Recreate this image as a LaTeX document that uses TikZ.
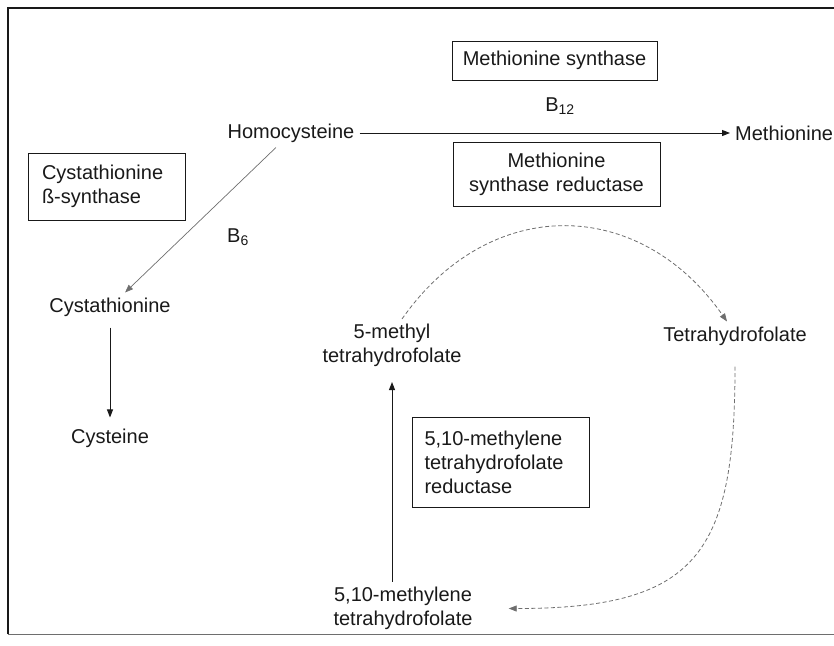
\documentclass[tikz,border=0pt]{standalone}
\usepackage{fontspec}
\setmainfont{Liberation Sans}
\usepackage{tikz}
\usepackage{xcolor}
\definecolor{scanink}{RGB}{25,25,25}
\definecolor{scangrey}{RGB}{110,110,110}
\usetikzlibrary{arrows.meta,calc}
\tikzset{
  box/.style={draw=scanink,line width=1pt,inner xsep=10pt,inner ysep=4pt,text=scanink,font=\fontsize{20}{24}\selectfont},
  lab/.style={align=center,inner sep=5pt,font=\fontsize{20}{24}\selectfont,text=scanink},
  arr/.style={-{Triangle[length=8pt,width=6pt]},line width=1pt,draw=scanink},
  dashline/.style={-{Triangle[length=8pt,width=6pt]},line width=0.8pt,draw=scangrey,dash pattern=on 4pt off 2.5pt},
  frame/.style={line width=1.2pt,draw=scanink},
}

\begin{document}
\begin{tikzpicture}[x=1pt,y=-1pt]
    \useasboundingbox (0,0) rectangle (834,645);
    \draw[frame] (8,634) -- (8,8) -- (834,8);
    \draw[frame,draw=scangrey,line width=1pt] (8,634) -- (834,634);
    % enzymes
    \node[box,minimum width=205pt,minimum height=39pt] (msyn) at (554.5,60.5) {Methionine synthase};
    \node[box,text width=187pt,align=center,minimum height=64pt] (msr) at (556.5,174) {Methionine\\synthase reductase};
    \node[box,text width=129pt,inner xsep=14pt,align=left,minimum height=67pt] (cbs) at (106.5,186.5) {Cystathionine\\ß-synthase};
    \node[box,text width=153pt,inner xsep=12pt,align=left,minimum height=90pt] (mthr) at (501,462) {5,10-methylene\\tetrahydrofolate\\reductase};
    % metabolites
    \node[lab] (bxii) at (560,106) {B\textsubscript{12}};
    \node[lab] (homo) at (291,133) {Homocysteine};
    \node[lab,anchor=west] (meth) at (730,133) {Methionine};
    \node[lab] (bvi) at (238,237) {B\textsubscript{6}};
    \node[lab] (cysta) at (110,307) {Cystathionine};
    \node[lab] (cyst) at (110,438) {Cysteine};
    \node[lab] (mthf) at (392,345.5) {5-methyl\\tetrahydrofolate};
    \node[lab] (thf) at (735,336) {Tetrahydrofolate};
    \node[lab] (mthene) at (403,608.5) {5,10-methylene\\tetrahydrofolate};
    % reactions
    \draw[arr] (homo) -- (meth);
    \draw[arr,draw=scangrey,line width=0.7pt] (homo) -- (cysta);
    \draw[arr,shorten <=6pt,shorten >=6pt] (cysta) -- (cyst);
    \draw[dashline] ([xshift=10pt]mthf.north) to[out=55,in=125,looseness=1.2] ([xshift=-8pt]thf.north);
    \draw[dashline] ([yshift=-16pt]thf.south) to[out=-90,in=0,looseness=1.45] ([xshift=31pt]mthene.east);
    \draw[arr,shorten >=10pt] (mthene.north -| mthf.south) -- (mthf.south);
\end{tikzpicture}
\end{document}
